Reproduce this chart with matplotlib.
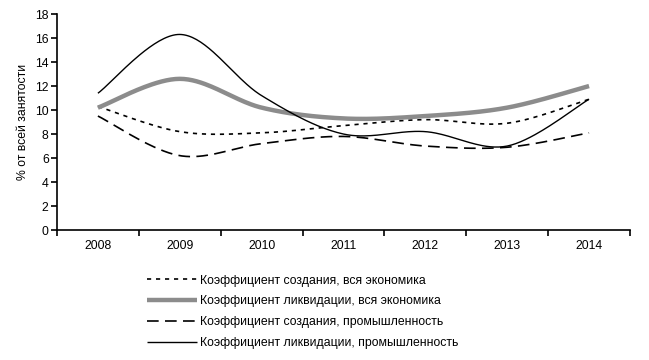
import numpy as np
import matplotlib
matplotlib.use("Agg")
import matplotlib.pyplot as plt

plt.rcParams['font.family'] = ['Liberation Sans', 'DejaVu Sans']

years = ['2008', '2009', '2010', '2011', '2012', '2013', '2014']
creation_all = [10.3, 8.2, 8.1, 8.7, 9.2, 8.9, 10.9]
liquid_all = [10.2, 12.6, 10.2, 9.3, 9.5, 10.2, 12.0]
creation_ind = [9.5, 6.2, 7.2, 7.8, 7.0, 6.9, 8.1]
liquid_ind = [11.4, 16.3, 11.2, 8.0, 8.2, 7.0, 10.9]
labels = ['Коэффициент создания, вся экономика',
          'Коэффициент ликвидации, вся экономика',
          'Коэффициент создания, промышленность',
          'Коэффициент ликвидации, промышленность']
yticks = [0, 2, 4, 6, 8, 10, 12, 14, 16, 18]


def smooth(x, y, n=40):
    x = np.asarray(x, float); y = np.asarray(y, float)
    xs, ys = [], []
    m = len(x)
    for i in range(m - 1):
        p0 = np.array([x[max(i - 1, 0)], y[max(i - 1, 0)]])
        p1 = np.array([x[i], y[i]])
        p2 = np.array([x[i + 1], y[i + 1]])
        p3 = np.array([x[min(i + 2, m - 1)], y[min(i + 2, m - 1)]])
        c1 = p1 + (p2 - p0) / 6.0
        c2 = p2 - (p3 - p1) / 6.0
        t = np.linspace(0, 1, n)[:, None]
        b = ((1 - t) ** 3) * p1 + 3 * ((1 - t) ** 2) * t * c1 + 3 * (1 - t) * t ** 2 * c2 + t ** 3 * p2
        if i > 0:
            b = b[1:]
        xs.extend(b[:, 0]); ys.extend(b[:, 1])
    return np.array(xs), np.array(ys)


FS = 8.8
fig = plt.figure(figsize=(6.49, 3.6), dpi=100)
ax = fig.add_axes([0.0878, 0.361, 0.8829, 0.600])
xpos = np.arange(len(years))

styles = [
    dict(color='black', lw=1.2, linestyle=(0, (2.5, 2.9))),
    dict(color='#8c8c8c', lw=3.2, linestyle='-'),
    dict(color='black', lw=1.2, linestyle=(0, (7, 3.8))),
    dict(color='black', lw=1.0, linestyle='-'),
]
for data, st, lab in zip([creation_all, liquid_all, creation_ind, liquid_ind], styles, labels):
    sx, sy = smooth(xpos, data)
    ax.plot(sx, sy, label=lab, solid_capstyle='butt', **st)

ax.set_xlim(-0.5, len(years) - 0.5)
ax.set_ylim(0, 18)
ax.set_yticks(yticks)
ax.set_yticklabels([str(v) for v in yticks], fontsize=FS)
ax.set_xticks(xpos)
ax.set_xticklabels(years, fontsize=FS)
ax.set_xticks(np.arange(len(years) + 1) - 0.5, minor=True)
ax.tick_params(axis='x', which='major', length=0, pad=7)
ax.tick_params(axis='x', which='minor', length=4, width=1.2, direction='out')
ax.tick_params(axis='y', length=4, width=1.2, direction='out', pad=2)
for s in ['top', 'right']:
    ax.spines[s].set_visible(False)
for s in ['left', 'bottom']:
    ax.spines[s].set_linewidth(1.2)
ax.set_ylabel('% от всей занятости', fontsize=FS, labelpad=4)

h, l = ax.get_legend_handles_labels()
fig.legend(h, l, loc='upper left', bbox_to_anchor=(0.2265, 0.237), frameon=False,
           fontsize=FS, handlelength=4.1, handletextpad=0.25, labelspacing=0.72,
           borderpad=0, borderaxespad=0)

fig.savefig('out.png', dpi=100)
